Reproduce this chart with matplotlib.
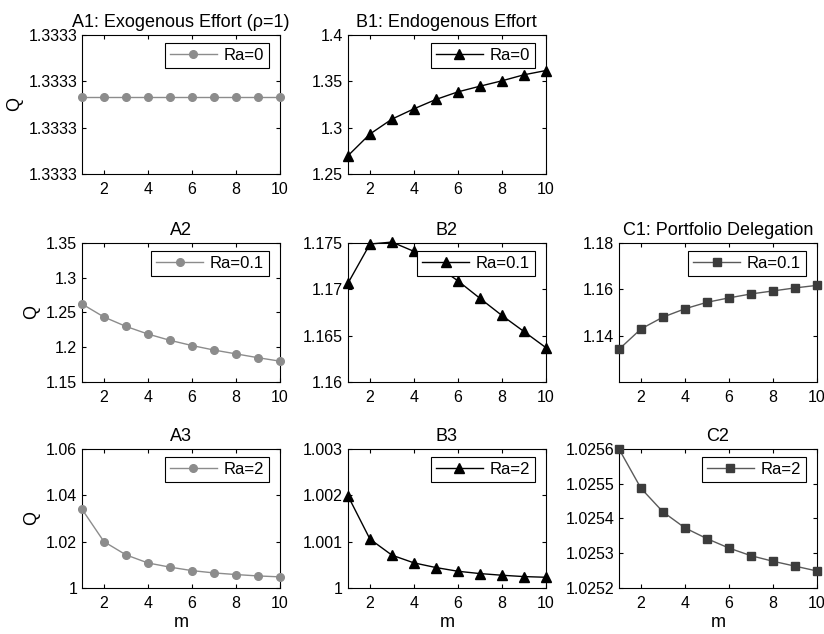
import numpy as np
import matplotlib
matplotlib.use('Agg')
import matplotlib.pyplot as plt
from matplotlib.ticker import FormatStrFormatter

plt.rcParams['font.family'] = ['Liberation Sans', 'DejaVu Sans']
plt.rcParams['font.size'] = 11

m = np.arange(1, 11)

# column A: exogenous effort
a1 = [4 / 3] * 10
a2 = [1.2623, 1.2435, 1.2300, 1.2190, 1.2100, 1.2025, 1.1960, 1.1905, 1.1850, 1.1800]
a3 = [1.0340, 1.0200, 1.0143, 1.0108, 1.0090, 1.0075, 1.0065, 1.0058, 1.0052, 1.0048]

# column B: endogenous effort
b1 = [1.2697, 1.2931, 1.3092, 1.3203, 1.3304, 1.3386, 1.3447, 1.3505, 1.3570, 1.3616]
b2 = [1.17066, 1.17489, 1.17510, 1.17410, 1.17260, 1.17092, 1.16904, 1.16719, 1.16546, 1.16372]
b3 = [1.001988, 1.001055, 1.000708, 1.000542, 1.000441, 1.000361, 1.000311, 1.000275, 1.000246, 1.000231]

# column C: portfolio delegation
c1 = [1.1341, 1.1429, 1.1480, 1.1516, 1.1544, 1.1563, 1.1580, 1.1593, 1.1606, 1.1617]
c2 = [1.025600, 1.025487, 1.025419, 1.025373, 1.025342, 1.025315, 1.025293, 1.025277, 1.025263, 1.025249]

fig = plt.figure(figsize=(8.24, 6.34), dpi=100)

lefts = [0.0995, 0.4223, 0.7512]
bottoms = [0.7256, 0.3975, 0.0726]
w, h = 0.240, 0.2192
# legend offset from the upper right corner (pixels)
leg_dx, leg_dy = 11, 8


def panel(col, row, y, title, label, marker, color, lcolor, ylim, yticks, fmt, ms):
    ax = fig.add_axes([lefts[col], bottoms[row], w, h])
    ax.plot(m, y, marker=marker, color=lcolor, mfc=color, mec=color, ms=ms,
            lw=1.0, label=label, clip_on=False, zorder=3)
    ax.set_xlim(1, 10)
    ax.set_xticks([2, 4, 6, 8, 10])
    ax.set_ylim(*ylim)
    ax.set_yticks(yticks)
    ax.yaxis.set_major_formatter(FormatStrFormatter(fmt))
    ax.tick_params(direction='in', top=True, right=True, length=3, labelsize=11.5)
    ax.tick_params(axis='x', pad=6)
    ax.set_title(title, fontsize=13, pad=6)
    anchor = (1 - leg_dx / (w * 824), 1 - leg_dy / (h * 634))
    leg = ax.legend(loc='upper right', bbox_to_anchor=anchor, borderaxespad=0,
                    handlelength=2.8, handletextpad=0.4, fancybox=False,
                    framealpha=1, edgecolor='black', fontsize=12,
                    borderpad=0.3)
    leg.get_frame().set_linewidth(0.8)
    if col == 0:
        ax.set_ylabel('Q', fontsize=13, labelpad=4)
    if row == 2:
        ax.set_xlabel('m', fontsize=13, labelpad=2)
    return ax


d = 3e-5
base = 4 / 3 - 0.554 * d
ax = panel(0, 0, a1, 'A1: Exogenous Effort (\u03c1=1)', 'Ra=0', 'o', '#8c8c8c', '#8c8c8c',
           (base, base + d), np.linspace(base, base + d, 4), '%.4f', 5.5)
panel(0, 1, a2, 'A2', 'Ra=0.1', 'o', '#8c8c8c', '#8c8c8c',
      (1.15, 1.35), [1.15, 1.2, 1.25, 1.3, 1.35], '%g', 5.5)
panel(0, 2, a3, 'A3', 'Ra=2', 'o', '#8c8c8c', '#8c8c8c',
      (1.0, 1.06), [1.0, 1.02, 1.04, 1.06], '%g', 5.5)

panel(1, 0, b1, 'B1: Endogenous Effort', 'Ra=0', '^', 'black', 'black',
      (1.25, 1.4), [1.25, 1.3, 1.35, 1.4], '%g', 7)
panel(1, 1, b2, 'B2', 'Ra=0.1', '^', 'black', 'black',
      (1.16, 1.175), [1.16, 1.165, 1.17, 1.175], '%g', 7)
panel(1, 2, b3, 'B3', 'Ra=2', '^', 'black', 'black',
      (1.0, 1.003), [1.0, 1.001, 1.002, 1.003], '%g', 7)

panel(2, 1, c1, 'C1: Portfolio Delegation', 'Ra=0.1', 's', '#3c3c3c', '#5a5a5a',
      (1.12, 1.18), [1.14, 1.16, 1.18], '%g', 5.5)
panel(2, 2, c2, 'C2', 'Ra=2', 's', '#3c3c3c', '#5a5a5a',
      (1.0252, 1.0256), [1.0252, 1.0253, 1.0254, 1.0255, 1.0256], '%.4f', 5.5)

fig.savefig('out.png', dpi=100)
